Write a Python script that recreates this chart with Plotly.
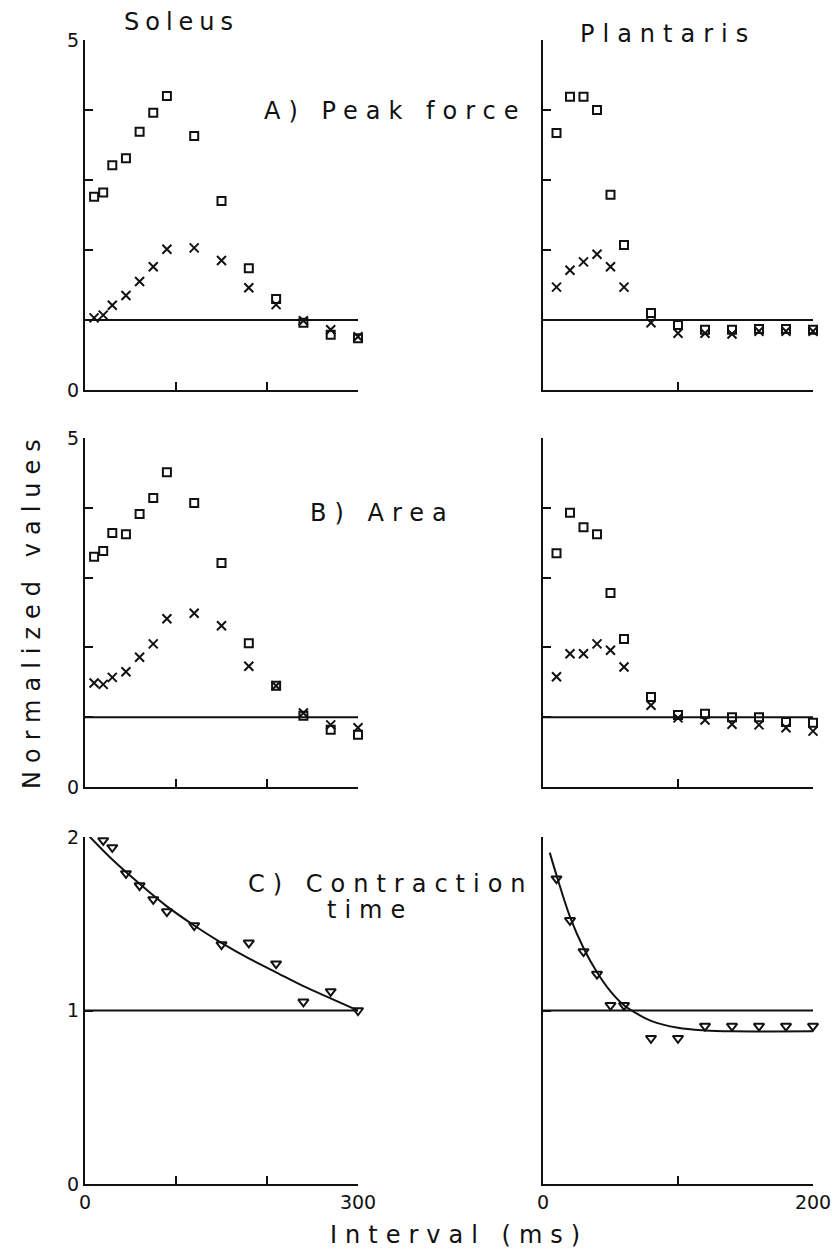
import plotly.graph_objects as go

# ---------------- data ----------------
sol_int = [10, 20, 30, 45, 60, 75, 90, 120, 150, 180, 210, 240, 270, 300]
sol_force_sq = [2.76, 2.82, 3.21, 3.31, 3.69, 3.96, 4.20, 3.63, 2.70, 1.74, 1.30, 0.96, 0.79, 0.74]
sol_force_x = [1.03, 1.07, 1.21, 1.35, 1.55, 1.76, 2.01, 2.03, 1.85, 1.46, 1.22, 0.99, 0.86, 0.76]
sol_area_sq = [3.30, 3.38, 3.64, 3.62, 3.91, 4.14, 4.51, 4.07, 3.21, 2.06, 1.45, 1.02, 0.82, 0.75]
sol_area_x = [1.49, 1.47, 1.57, 1.65, 1.86, 2.05, 2.41, 2.49, 2.31, 1.73, 1.45, 1.06, 0.89, 0.85]
sol_ct = [2.02, 1.98, 1.94, 1.79, 1.72, 1.64, 1.57, 1.49, 1.38, 1.39, 1.27, 1.05, 1.11, 1.00]
sol_fit_t = [0, 30, 60, 90, 120, 150, 180, 210, 240, 270, 300]
sol_fit_v = [2.03, 1.87, 1.73, 1.60, 1.49, 1.39, 1.30, 1.22, 1.14, 1.07, 1.00]

plan_int = [10, 20, 30, 40, 50, 60, 80, 100, 120, 140, 160, 180, 200]
plan_force_sq = [3.67, 4.19, 4.19, 4.00, 2.79, 2.07, 1.10, 0.93, 0.86, 0.86, 0.87, 0.87, 0.86]
plan_force_x = [1.47, 1.71, 1.83, 1.94, 1.76, 1.47, 0.96, 0.81, 0.81, 0.80, 0.84, 0.84, 0.84]
plan_area_sq = [3.35, 3.93, 3.72, 3.62, 2.78, 2.12, 1.29, 1.03, 1.05, 1.00, 1.00, 0.93, 0.92]
plan_area_x = [1.58, 1.91, 1.91, 2.05, 1.96, 1.72, 1.17, 0.99, 0.96, 0.90, 0.89, 0.85, 0.80]
plan_ct = [1.76, 1.52, 1.34, 1.21, 1.03, 1.03, 0.84, 0.84, 0.91, 0.91, 0.91, 0.91, 0.91]
plan_fit_t = [5, 10, 20, 30, 40, 50, 60, 70, 80, 100, 120, 140, 200]
plan_fit_v = [1.91, 1.78, 1.54, 1.36, 1.22, 1.11, 1.03, 0.98, 0.94, 0.90, 0.885, 0.88, 0.88]

baseline = 1.0
sol_xrange = [0, 300]
plan_xrange = [0, 200]
sol_xticks = [0, 100, 200, 300]
plan_xticks = [0, 100, 200]

W, H = 837, 1251
FONT = "DejaVu Sans"
BLACK = "#111111"


def px(x):
    return x / W


def py(y):
    return 1 - y / H


fig = go.Figure()

sq = dict(symbol="square-open", size=8, color=BLACK, line=dict(width=2, color=BLACK))
xm = dict(symbol="x-thin-open", size=9, color=BLACK, line=dict(width=2, color=BLACK))
tri = dict(symbol="triangle-down-open", size=9, color=BLACK, line=dict(width=2, color=BLACK))


def add_pts(x, y, marker, ax):
    fig.add_trace(go.Scatter(x=x, y=y, mode="markers", marker=marker, cliponaxis=False,
                             xaxis="x" + ax, yaxis="y" + ax, showlegend=False))


def add_line(x, y, ax, spline=False):
    fig.add_trace(go.Scatter(x=x, y=y, mode="lines", cliponaxis=False,
                             line=dict(color=BLACK, width=2, shape="spline" if spline else "linear",
                                       smoothing=1.0),
                             xaxis="x" + ax, yaxis="y" + ax, showlegend=False))


# Panel A
add_line(sol_xrange, [baseline, baseline], "")
add_pts(sol_int, sol_force_sq, sq, "")
add_pts(sol_int, sol_force_x, xm, "")
add_line(plan_xrange, [baseline, baseline], "2")
add_pts(plan_int, plan_force_sq, sq, "2")
add_pts(plan_int, plan_force_x, xm, "2")
# Panel B
add_line(sol_xrange, [baseline, baseline], "3")
add_pts(sol_int, sol_area_sq, sq, "3")
add_pts(sol_int, sol_area_x, xm, "3")
add_line(plan_xrange, [baseline, baseline], "4")
add_pts(plan_int, plan_area_sq, sq, "4")
add_pts(plan_int, plan_area_x, xm, "4")
# Panel C
add_line(sol_xrange, [baseline, baseline], "5")
add_line(sol_fit_t, sol_fit_v, "5", spline=True)
add_pts(sol_int, sol_ct, tri, "5")
add_line(plan_xrange, [baseline, baseline], "6")
add_line(plan_fit_t, plan_fit_v, "6", spline=True)
add_pts(plan_int, plan_ct, tri, "6")

axis_common = dict(showline=True, linewidth=2, linecolor=BLACK, ticks="inside", ticklen=8,
                   tickwidth=2, tickcolor=BLACK, showgrid=False, zeroline=False, automargin=False,
                   tickfont=dict(family=FONT, size=19, color=BLACK), fixedrange=True)

sol_dom = [px(85), px(358)]
plan_dom = [px(543), px(813)]
A_dom = [py(390), py(40)]
B_dom = [py(787), py(438)]
C_dom = [py(1184), py(837)]

blank_x_sol = [""] * len(sol_xticks)
blank_x_plan = [""] * len(plan_xticks)

layout = dict(
    width=W, height=H, margin=dict(l=0, r=0, t=0, b=0, autoexpand=False),
    paper_bgcolor="white", plot_bgcolor="white", showlegend=False,
    xaxis=dict(domain=sol_dom, range=sol_xrange, anchor="y", tickvals=sol_xticks, ticktext=blank_x_sol, **axis_common),
    yaxis=dict(domain=A_dom, range=[0, 5], anchor="x", tickvals=[0, 1, 2, 3, 4, 5],
               ticktext=["0", "", "", "", "", "5"], **axis_common),
    xaxis2=dict(domain=plan_dom, range=plan_xrange, anchor="y2", tickvals=plan_xticks, ticktext=blank_x_plan, **axis_common),
    yaxis2=dict(domain=A_dom, range=[0, 5], anchor="x2", tickvals=[0, 1, 2, 3, 4, 5],
                ticktext=[""] * 6, **axis_common),
    xaxis3=dict(domain=sol_dom, range=sol_xrange, anchor="y3", tickvals=sol_xticks, ticktext=blank_x_sol, **axis_common),
    yaxis3=dict(domain=B_dom, range=[0, 5], anchor="x3", tickvals=[0, 1, 2, 3, 4, 5],
                ticktext=["0", "", "", "", "", "5"], **axis_common),
    xaxis4=dict(domain=plan_dom, range=plan_xrange, anchor="y4", tickvals=plan_xticks, ticktext=blank_x_plan, **axis_common),
    yaxis4=dict(domain=B_dom, range=[0, 5], anchor="x4", tickvals=[0, 1, 2, 3, 4, 5],
                ticktext=[""] * 6, **axis_common),
    xaxis5=dict(domain=sol_dom, range=sol_xrange, anchor="y5", tickvals=sol_xticks,
                ticktext=["0", "", "", "300"], **axis_common),
    yaxis5=dict(domain=C_dom, range=[0, 2], anchor="x5", tickvals=[0, 1, 2],
                ticktext=["0", "1", "2"], **axis_common),
    xaxis6=dict(domain=plan_dom, range=plan_xrange, anchor="y6", tickvals=plan_xticks,
                ticktext=["0", "", "200"], **axis_common),
    yaxis6=dict(domain=C_dom, range=[0, 2], anchor="x6", tickvals=[0, 1, 2],
                ticktext=["", "", ""], **axis_common),
)
fig.update_layout(**layout)


def ann(text, x, y, size=24, spacing=8, angle=0):
    fig.add_annotation(text='<span style="letter-spacing:%dpx">%s</span>' % (spacing, text),
                       x=px(x), y=py(y), xref="paper", yref="paper", showarrow=False,
                       xanchor="center", yanchor="middle", textangle=angle,
                       font=dict(family=FONT, size=size, color=BLACK))


ann("Soleus", 181, 22, spacing=6)
ann("Plantaris", 668, 34)
ann("A) Peak force", 395, 111)
ann("B) Area", 382, 513)
ann("C) Contraction", 391, 884)
ann("time", 370, 910)
ann("Normalized values", 32, 610, angle=-90)
ann("Interval (ms)", 459, 1235)

fig.write_html("out.html",
               config={"displayModeBar": False, "staticPlot": True},
               post_script="document.body.style.margin='0';document.body.style.padding='0';"
                           "document.body.style.overflow='hidden';")
